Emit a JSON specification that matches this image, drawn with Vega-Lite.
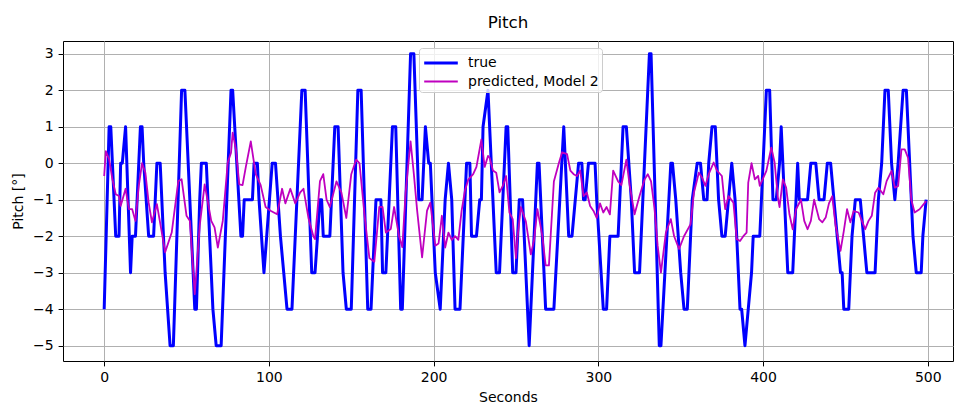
{
  "$schema": "https://vega.github.io/schema/vega-lite/v6.json",
  "width": 890,
  "height": 320,
  "autosize": {"type": "none"},
  "padding": {"left": 63, "top": 41, "right": 6, "bottom": 45},
  "background": "white",
  "title": {"text": "Pitch", "fontSize": 16.7, "font": "DejaVu Sans", "fontWeight": "normal", "color": "black", "anchor": "middle", "frame": "group", "offset": 10, "dy": 14, "baseline": "alphabetic"},
  "datasets": {
    "truth": [
      {"t":0,"v":-4},{"t":3,"v":1},{"t":4,"v":1},{"t":7,"v":-2},{"t":9,"v":-2},{"t":10,"v":0},{"t":11,"v":0},{"t":13,"v":1},{"t":16,"v":-3},{"t":17,"v":-2},{"t":19,"v":-2},{"t":22,"v":1},{"t":23,"v":1},{"t":24,"v":0},{"t":27,"v":-2},{"t":30,"v":-2},{"t":32,"v":0},{"t":34,"v":0},{"t":36,"v":-2},{"t":37,"v":-3},{"t":40,"v":-5},{"t":42,"v":-5},{"t":47,"v":2},{"t":49,"v":2},{"t":55,"v":-4},{"t":56,"v":-4},{"t":58,"v":-1},{"t":59,"v":0},{"t":62,"v":0},{"t":63,"v":-1},{"t":66,"v":-4},{"t":68,"v":-5},{"t":71,"v":-5},{"t":77,"v":2},{"t":78,"v":2},{"t":83,"v":-2},{"t":84,"v":-2},{"t":85,"v":-1},{"t":90,"v":-1},{"t":91,"v":0},{"t":93,"v":0},{"t":94,"v":-1},{"t":97,"v":-3},{"t":102,"v":0},{"t":104,"v":0},{"t":107,"v":-2},{"t":109,"v":-3},{"t":111,"v":-4},{"t":114,"v":-4},{"t":120,"v":2},{"t":122,"v":2},{"t":126,"v":-3},{"t":128,"v":-3},{"t":131,"v":-1},{"t":132,"v":-1},{"t":133,"v":-2},{"t":137,"v":-2},{"t":140,"v":1},{"t":142,"v":1},{"t":145,"v":-3},{"t":147,"v":-4},{"t":150,"v":-4},{"t":154,"v":2},{"t":156,"v":2},{"t":160,"v":-4},{"t":162,"v":-4},{"t":165,"v":-1},{"t":168,"v":-1},{"t":169,"v":-3},{"t":171,"v":-3},{"t":175,"v":1},{"t":177,"v":1},{"t":180,"v":-4},{"t":181,"v":-4},{"t":186,"v":3},{"t":188,"v":3},{"t":191,"v":-1},{"t":193,"v":-1},{"t":195,"v":1},{"t":197,"v":0},{"t":198,"v":0},{"t":201,"v":-3},{"t":204,"v":-4},{"t":207,"v":-1},{"t":209,"v":0},{"t":211,"v":-1},{"t":213,"v":-4},{"t":216,"v":-4},{"t":220,"v":0},{"t":222,"v":0},{"t":223,"v":-2},{"t":226,"v":-2},{"t":228,"v":-1},{"t":229,"v":-1},{"t":230,"v":1},{"t":233,"v":2},{"t":238,"v":-3},{"t":240,"v":-3},{"t":244,"v":1},{"t":245,"v":1},{"t":248,"v":-3},{"t":250,"v":-3},{"t":252,"v":-1},{"t":254,"v":-1},{"t":258,"v":-5},{"t":263,"v":0},{"t":264,"v":0},{"t":268,"v":-4},{"t":273,"v":-4},{"t":279,"v":1},{"t":281,"v":-1},{"t":282,"v":-2},{"t":284,"v":-2},{"t":286,"v":-1},{"t":288,"v":0},{"t":290,"v":0},{"t":291,"v":-1},{"t":292,"v":-1},{"t":294,"v":0},{"t":298,"v":0},{"t":299,"v":-1},{"t":303,"v":-4},{"t":305,"v":-4},{"t":307,"v":-2},{"t":312,"v":-2},{"t":315,"v":1},{"t":317,"v":1},{"t":320,"v":-1},{"t":322,"v":-3},{"t":325,"v":-3},{"t":331,"v":3},{"t":332,"v":3},{"t":337,"v":-5},{"t":338,"v":-5},{"t":344,"v":0},{"t":345,"v":0},{"t":347,"v":-1},{"t":350,"v":-3},{"t":352,"v":-4},{"t":354,"v":-4},{"t":355,"v":-3},{"t":357,"v":-1},{"t":360,"v":0},{"t":362,"v":0},{"t":364,"v":-1},{"t":366,"v":-1},{"t":367,"v":0},{"t":369,"v":1},{"t":371,"v":1},{"t":373,"v":-1},{"t":375,"v":-2},{"t":377,"v":-2},{"t":381,"v":0},{"t":383,"v":-1},{"t":386,"v":-4},{"t":387,"v":-4},{"t":389,"v":-5},{"t":391,"v":-4},{"t":393,"v":-3},{"t":394,"v":-2},{"t":398,"v":-2},{"t":402,"v":2},{"t":404,"v":2},{"t":406,"v":-1},{"t":408,"v":-1},{"t":410,"v":0},{"t":411,"v":1},{"t":412,"v":0},{"t":413,"v":-1},{"t":415,"v":-3},{"t":418,"v":-3},{"t":421,"v":0},{"t":422,"v":-1},{"t":427,"v":-1},{"t":429,"v":0},{"t":432,"v":0},{"t":434,"v":-1},{"t":437,"v":-1},{"t":439,"v":0},{"t":441,"v":0},{"t":443,"v":-1},{"t":445,"v":-2},{"t":447,"v":-3},{"t":448,"v":-3},{"t":449,"v":-4},{"t":452,"v":-4},{"t":454,"v":-2},{"t":456,"v":-1},{"t":459,"v":-1},{"t":461,"v":-2},{"t":463,"v":-3},{"t":468,"v":-3},{"t":470,"v":-1},{"t":472,"v":0},{"t":474,"v":2},{"t":476,"v":2},{"t":478,"v":0},{"t":480,"v":-1},{"t":482,"v":0},{"t":485,"v":2},{"t":487,"v":2},{"t":489,"v":0},{"t":491,"v":-2},{"t":493,"v":-3},{"t":496,"v":-3},{"t":497,"v":-2},{"t":499,"v":-1}
    ],
    "model2": [
      {"t":0,"v":-0.35},{"t":1,"v":0.33},{"t":3,"v":0.11},{"t":5,"v":-0.44},{"t":7,"v":-0.85},{"t":9,"v":-0.9},{"t":10,"v":-1.17},{"t":13,"v":-0.7},{"t":15,"v":-1.26},{"t":17,"v":-1.26},{"t":19,"v":-1.58},{"t":21,"v":-0.62},{"t":23,"v":0},{"t":25,"v":-0.26},{"t":27,"v":-1.08},{"t":29,"v":-1.62},{"t":32,"v":-1.12},{"t":35,"v":-1.9},{"t":37,"v":-2.44},{"t":41,"v":-1.9},{"t":45,"v":-0.49},{"t":47,"v":-0.44},{"t":50,"v":-1.44},{"t":52,"v":-1.58},{"t":55,"v":-3.59},{"t":58,"v":-1.71},{"t":61,"v":-0.58},{"t":63,"v":-1.08},{"t":65,"v":-1.58},{"t":67,"v":-1.76},{"t":69,"v":-2.31},{"t":72,"v":-1.58},{"t":75,"v":0.02},{"t":77,"v":0.29},{"t":78,"v":0.84},{"t":80,"v":0.38},{"t":82,"v":-0.58},{"t":84,"v":-0.6},{"t":86,"v":-0.1},{"t":89,"v":0.6},{"t":92,"v":-0.3},{"t":95,"v":-0.6},{"t":98,"v":-1.2},{"t":101,"v":-1.3},{"t":105,"v":-1.4},{"t":108,"v":-0.7},{"t":110,"v":-1.1},{"t":113,"v":-0.7},{"t":116,"v":-1.1},{"t":119,"v":-0.8},{"t":121,"v":-0.7},{"t":124,"v":-1.5},{"t":127,"v":-2.0},{"t":128,"v":-2.08},{"t":131,"v":-0.49},{"t":133,"v":-0.3},{"t":135,"v":-1.0},{"t":137,"v":-1.2},{"t":141,"v":-0.5},{"t":144,"v":-0.8},{"t":147,"v":-1.5},{"t":150,"v":-0.3},{"t":153,"v":0.1},{"t":155,"v":0},{"t":158,"v":-1.4},{"t":161,"v":-2.6},{"t":164,"v":-2.7},{"t":167,"v":-1.2},{"t":169,"v":-1.2},{"t":171,"v":-1.9},{"t":174,"v":-1.8},{"t":176,"v":-1.2},{"t":179,"v":-2.0},{"t":181,"v":-2.3},{"t":183,"v":-0.8},{"t":186,"v":0.6},{"t":188,"v":-0.3},{"t":190,"v":-1.3},{"t":193,"v":-2.58},{"t":196,"v":-1.3},{"t":198,"v":-1.08},{"t":201,"v":-2.26},{"t":203,"v":-2.2},{"t":205,"v":-1.44},{"t":207,"v":-2.31},{"t":209,"v":-1.9},{"t":211,"v":-2.1},{"t":213,"v":-2.0},{"t":215,"v":-2.1},{"t":217,"v":-1.3},{"t":219,"v":-0.75},{"t":221,"v":-0.45},{"t":224,"v":-0.3},{"t":226,"v":-0.1},{"t":229,"v":0.65},{"t":231,"v":-0.1},{"t":233,"v":0.2},{"t":234,"v":0.15},{"t":236,"v":-0.2},{"t":238,"v":-0.26},{"t":240,"v":-0.8},{"t":242,"v":-0.62},{"t":244,"v":-0.35},{"t":246,"v":-1.35},{"t":248,"v":-1.53},{"t":250,"v":-2.6},{"t":251,"v":-2.0},{"t":253,"v":-1.2},{"t":256,"v":-1.6},{"t":259,"v":-2.5},{"t":261,"v":-2.1},{"t":263,"v":-1.26},{"t":266,"v":-2.0},{"t":268,"v":-2.8},{"t":270,"v":-2.8},{"t":273,"v":-0.5},{"t":276,"v":0},{"t":278,"v":0.3},{"t":281,"v":0.25},{"t":283,"v":-0.2},{"t":285,"v":-0.3},{"t":287,"v":-0.35},{"t":289,"v":-0.2},{"t":291,"v":-0.9},{"t":293,"v":-0.8},{"t":295,"v":-1.17},{"t":297,"v":-1.3},{"t":299,"v":-1.5},{"t":301,"v":-1.1},{"t":303,"v":-1.35},{"t":305,"v":-1.2},{"t":307,"v":-1.4},{"t":309,"v":-0.2},{"t":312,"v":-0.5},{"t":314,"v":-0.6},{"t":317,"v":0.1},{"t":319,"v":-0.6},{"t":322,"v":-1.4},{"t":325,"v":-0.9},{"t":328,"v":-0.45},{"t":330,"v":-0.3},{"t":332,"v":-0.5},{"t":334,"v":-1.2},{"t":336,"v":-2.26},{"t":338,"v":-3.0},{"t":341,"v":-1.9},{"t":344,"v":-1.53},{"t":346,"v":-2.0},{"t":349,"v":-2.35},{"t":352,"v":-2.0},{"t":356,"v":-1.67},{"t":358,"v":-0.81},{"t":361,"v":-0.26},{"t":363,"v":-0.4},{"t":365,"v":-0.62},{"t":367,"v":-0.3},{"t":370,"v":0.02},{"t":372,"v":-0.2},{"t":375,"v":-0.35},{"t":377,"v":-1.26},{"t":379,"v":-0.9},{"t":382,"v":-1.08},{"t":384,"v":-2.08},{"t":386,"v":-2.13},{"t":388,"v":-2.0},{"t":390,"v":-1.9},{"t":391,"v":-0.53},{"t":393,"v":0},{"t":395,"v":-0.44},{"t":397,"v":-0.35},{"t":398,"v":-0.62},{"t":402,"v":-0.21},{"t":405,"v":0.43},{"t":407,"v":0.02},{"t":409,"v":-0.94},{"t":410,"v":-1.2},{"t":412,"v":-0.44},{"t":414,"v":-0.67},{"t":416,"v":-1.4},{"t":418,"v":-1.81},{"t":420,"v":-1.26},{"t":423,"v":-1.0},{"t":425,"v":-1.58},{"t":427,"v":-1.81},{"t":429,"v":-1.58},{"t":431,"v":-1.0},{"t":434,"v":-1.53},{"t":436,"v":-1.62},{"t":438,"v":-1.49},{"t":440,"v":-1.1},{"t":442,"v":-0.9},{"t":444,"v":-1.7},{"t":447,"v":-2.4},{"t":449,"v":-1.86},{"t":451,"v":-1.26},{"t":453,"v":-1.62},{"t":455,"v":-1.31},{"t":458,"v":-1.35},{"t":460,"v":-1.58},{"t":462,"v":-1.81},{"t":464,"v":-1.58},{"t":466,"v":-1.44},{"t":468,"v":-0.81},{"t":470,"v":-0.67},{"t":473,"v":-0.85},{"t":475,"v":-0.49},{"t":478,"v":-0.21},{"t":480,"v":-0.67},{"t":482,"v":-0.62},{"t":484,"v":0.38},{"t":486,"v":0.38},{"t":488,"v":0.15},{"t":490,"v":-1.0},{"t":492,"v":-1.35},{"t":495,"v":-1.26},{"t":499,"v":-1.04}
    ]
  },
  "encoding": {
    "x": {
      "field": "t", "type": "quantitative",
      "scale": {"domain": [-25, 515.3], "nice": false, "zero": false},
      "axis": {"values": [0, 100, 200, 300, 400, 500], "title": "Seconds", "titlePadding": 6}
    },
    "y": {
      "field": "v", "type": "quantitative",
      "scale": {"domain": [-5.42, 3.35], "nice": false, "zero": false},
      "axis": {
        "values": [-5, -4, -3, -2, -1, 0, 1, 2, 3],
        "title": "Pitch [°]", "titlePadding": 7,
        "labelExpr": "replace(datum.label, '-', '−')"
      }
    },
    "color": {
      "field": "s", "type": "nominal",
      "scale": {"domain": ["true", "predicted, Model 2"], "range": ["#0000ff", "#bf00bf"]},
      "legend": {"title": null}
    },
    "strokeWidth": {
      "field": "s", "type": "nominal",
      "scale": {"domain": ["true", "predicted, Model 2"], "range": [3, 1.8]},
      "legend": {"title": null}
    }
  },
  "layer": [
    {
      "data": {"name": "truth"},
      "transform": [{"calculate": "'true'", "as": "s"}],
      "mark": {"type": "line", "strokeJoin": "round"}
    },
    {
      "data": {"name": "model2"},
      "transform": [{"calculate": "'predicted, Model 2'", "as": "s"}],
      "mark": {"type": "line", "strokeJoin": "round"}
    }
  ],
  "config": {
    "view": {"stroke": "black", "strokeWidth": 1},
    "font": "DejaVu Sans",
    "axis": {
      "domain": false,
      "labelFont": "DejaVu Sans", "labelFontSize": 14, "labelColor": "black",
      "titleFont": "DejaVu Sans", "titleFontSize": 14, "titleFontWeight": "normal", "titleColor": "black",
      "tickColor": "black", "tickSize": 4.9, "tickWidth": 1, "labelPadding": 4.9,
      "grid": true, "gridColor": "#b0b0b0", "gridWidth": 1
    },
    "legend": {
      "orient": "none", "legendX": 356, "legendY": 7,
      "symbolType": "M-1.6,0H1.6", "symbolSize": 441, "symbolOffset": 7,
      "labelFont": "DejaVu Sans", "labelFontSize": 14, "labelColor": "black",
      "labelOffset": 15, "rowPadding": 0, "padding": 3,
      "fillColor": "rgba(255,255,255,0.8)", "strokeColor": "#cccccc", "cornerRadius": 3
    }
  }
}
